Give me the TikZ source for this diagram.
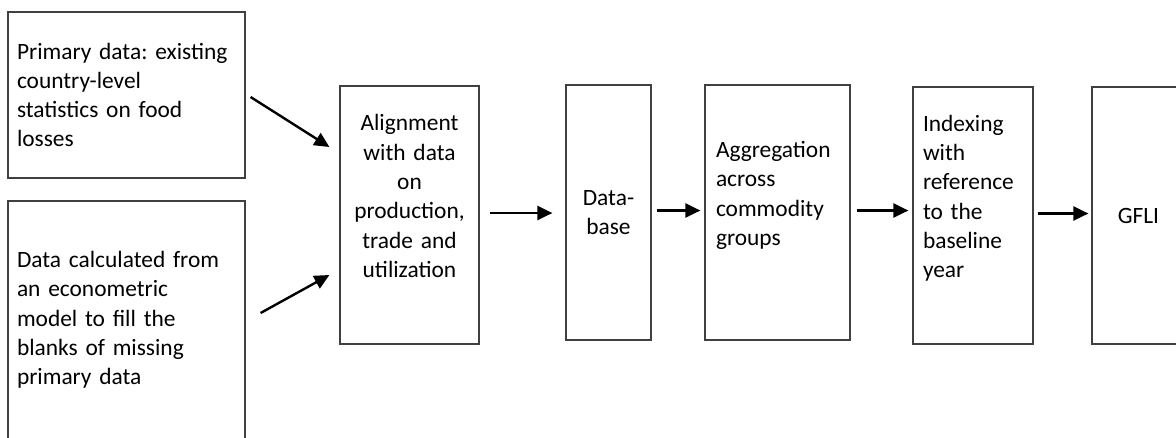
\documentclass[tikz,border=0pt]{standalone}
\usepackage{fontspec}
\setmainfont{Carlito}
\usetikzlibrary{arrows.meta}
\frenchspacing
\begin{document}
\begin{tikzpicture}[x=1pt,y=-1pt]
\tikzset{s/.style={draw=black!75,line width=1.2pt,rectangle,inner sep=0pt,font=\fontsize{23.4}{29.3}\selectfont},
a/.style={line width=2.4pt,-{Triangle[length=15pt,width=14pt]}}}
\useasboundingbox(0,0)rectangle(1176,437);
\node[s,minimum width=237pt,minimum height=166pt,text width=219pt,align=left](pr) at (126.5,95){Primary data: existing\\country-level\\statistics on food\\losses};
\node[s,minimum width=237pt,minimum height=238pt,text width=219pt,align=left](ca) at (126.5,320){Data calculated from\\an econometric\\model to fill the\\blanks of missing\\primary data};
\node[s,minimum width=139pt,minimum height=258pt,text width=130pt,align=center](al) at (409.5,215){Alignment\\with data\\on\\production,\\trade and\\utilization\\\strut};
\node[s,minimum width=85pt,minimum height=255pt,text width=80pt,align=center](db) at (608.5,212.5){Data-\\base};
\node[s,minimum width=145pt,minimum height=255pt,text width=123pt,align=left](ag) at (777.5,212.5){Aggregation\\across\\commodity\\groups\\\strut};
\node[s,minimum width=120pt,minimum height=257pt,text width=100pt,align=left](ix) at (973,215.5){Indexing\\with\\reference\\to the\\baseline\\year\\\strut};
\node[s,minimum width=93pt,minimum height=257pt,text width=50pt,align=center](gf) at (1138.5,215.5){GFLI};
%% arrows into the alignment box
\draw[a]([shift={(5,2)}]pr.east)--([shift={(-10,-68)}]al.west);
\draw[a]([shift={(15,-7)}]ca.east)--([shift={(-10,60)}]al.west);
\foreach \x/\y/\p/\q in {
al/db/10/13,
db/ag/5/4,
ag/ix/6/4,
ix/gf/4/3}
\draw[a,shorten <=\p pt,shorten >=\q pt]([yshift=2pt]\x.east)--([yshift=2pt]\x.east-|\y.west);
\end{tikzpicture}
\end{document}
